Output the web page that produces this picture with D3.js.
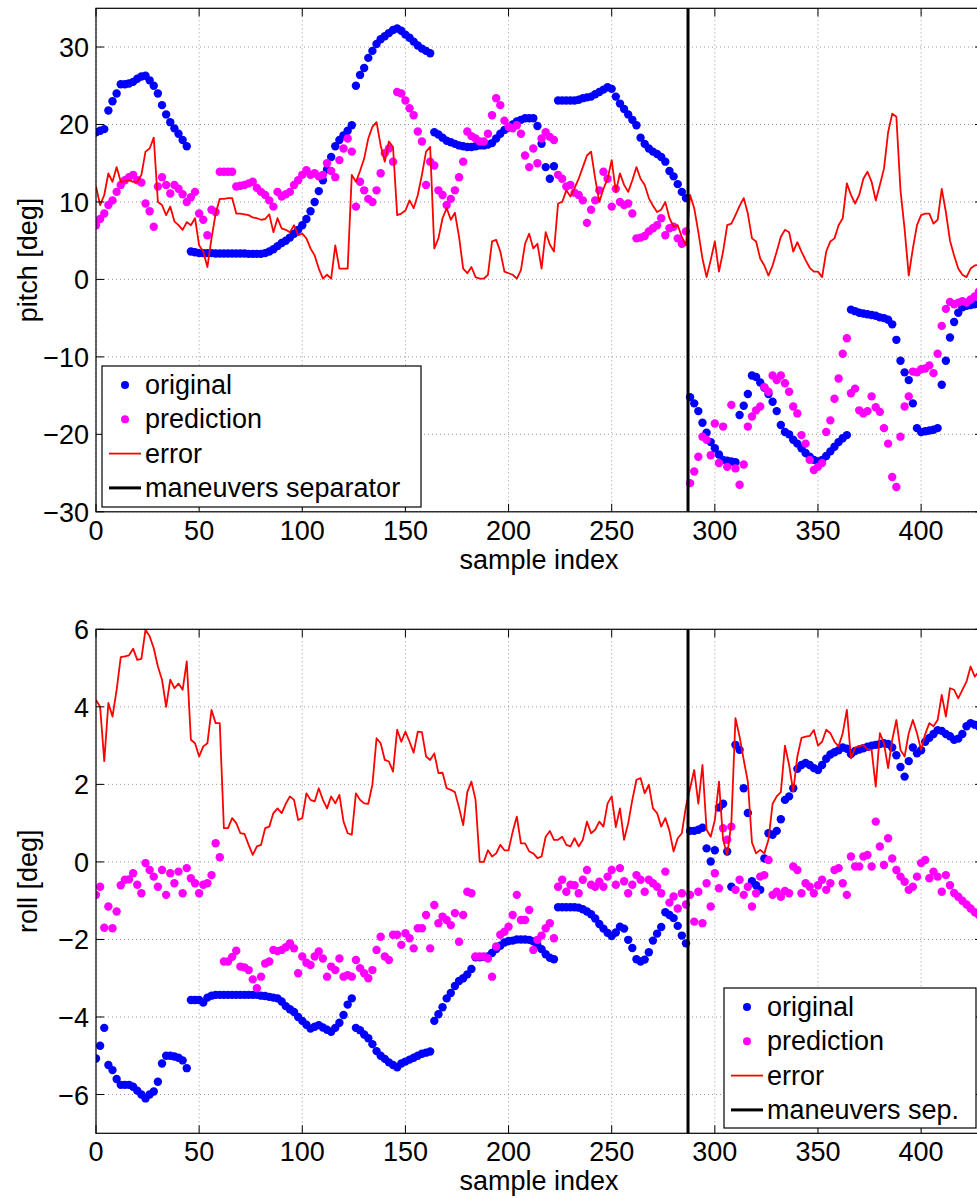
<!DOCTYPE html>
<html>
<head>
<meta charset="utf-8">
<script src="https://cdn.jsdelivr.net/npm/d3@7"></script>
<style>
  body { margin: 0; background: #fff; }
  svg text { font-family: "Liberation Sans", Arial, Helvetica, sans-serif; fill: #000; }
</style>
</head>
<body>
<div id="chart"></div>
<script>
// one value every 2 samples, starting at sample 0
var sampleStep = 2;

var pitchOrig = [
  19.0, 19.2, 19.4, 21.8, 23.0, 24.0, 25.2, 25.2, 25.3, 25.5,
  25.9, 26.2, 26.3, 25.7, 25.0, 24.0, 22.5, 21.3, 20.3, 19.5,
  18.8, 18.0, 17.2, 3.6, 3.5, 3.4, 3.4, 3.4, 3.4, 3.35,
  3.35, 3.35, 3.35, 3.35, 3.35, 3.35, 3.35, 3.3, 3.3, 3.3,
  3.3, 3.4, 3.6, 3.9, 4.3, 4.7, 5.0, 5.4, 5.9, 6.4,
  7.0, 7.8, 8.8, 10.0, 11.4, 12.8, 14.2, 15.8, 17.2, 18.0,
  18.6, 19.2, 19.9, 25.0, 26.4, 27.3, 28.6, 29.5, 30.4, 31.0,
  31.4, 31.8, 32.2, 32.4, 32.1, 31.6, 31.2, 30.7, 30.2, 29.8,
  29.5, 29.2, 19.0, 18.7, 18.3, 17.9, 17.7, 17.5, 17.3, 17.2,
  17.1, 17.1, 17.2, 17.3, 17.3, 17.4, 17.6, 18.2, 18.8, 19.3,
  19.6, 20.0, 20.4, 20.6, 20.8, 20.8, 20.8, 19.8, 17.5, 14.5,
  13.0, 14.6, 23.1, 23.1, 23.1, 23.1, 23.1, 23.2, 23.4, 23.5,
  23.6, 23.9, 24.2, 24.5, 24.8, 24.6, 23.6, 22.7, 22.0, 21.3,
  20.6, 19.9, 18.3, 17.5, 16.9, 16.5, 16.2, 15.8, 15.2, 14.0,
  13.3, 12.3, 11.3, 10.5, -15.2, -16.0, -17.0, -18.5, -19.8, -21.0,
  -21.8, -22.6, -23.3, -23.4, -23.5, -23.6, -17.5, -16.3, -14.8, -12.4,
  -12.6, -13.3, -14.0, -14.8, -15.8, -17.0, -18.8, -19.7, -20.0, -20.7,
  -21.2, -21.8, -22.4, -22.9, -23.3, -23.5, -23.3, -22.8, -22.2, -21.6,
  -21.0, -20.5, -20.1, -3.9, -4.1, -4.3, -4.4, -4.5, -4.6, -4.7,
  -4.9, -5.0, -5.2, -5.8, -7.8, -10.5, -12.0, -13.0, -16.0, -19.2,
  -19.7, -19.6, -19.5, -19.4, -19.2, -13.6, -10.5, -7.5, -5.5, -4.3,
  -3.6, -3.4, -3.3, -3.2, -3.2, -3.1
];

var pitchPred = [
  7.0, 7.8, 8.5, 9.6, 10.2, 11.3, 12.2, 12.8, 13.2, 13.5,
  12.8, 12.5, 9.8, 8.8, 6.8, 12.0, 13.2, 12.2, 11.1, 12.2,
  11.7, 11.0, 10.0, 10.6, 11.3, 8.5, 7.7, 5.7, 9.0, 8.7,
  13.9, 13.9, 13.9, 13.9, 12.0, 12.1, 12.2, 12.4, 12.6, 11.8,
  11.3, 10.9, 10.2, 9.4, 11.3, 10.7, 11.0, 11.3, 12.2, 12.8,
  13.5, 14.1, 13.5, 13.7, 13.3, 13.5, 15.0, 14.0, 13.2, 15.4,
  16.9, 18.2, 16.5, 9.4, 12.6, 11.5, 10.4, 10.0, 11.5, 13.7,
  16.3, 16.9, 15.2, 24.2, 24.0, 23.1, 22.1, 21.2, 19.1, 17.8,
  12.2, 15.2, 14.7, 11.5, 10.9, 9.6, 10.4, 11.5, 13.2, 15.2,
  19.1, 18.5, 18.2, 17.8, 17.8, 18.8, 21.2, 23.4, 22.5, 20.5,
  19.7, 19.5, 19.9, 18.8, 16.0, 14.5, 16.9, 15.0, 18.2, 19.0,
  18.4, 18.0, 13.5, 13.0, 12.0, 12.2, 11.2, 10.9, 10.2, 7.3,
  9.0, 10.2, 11.5, 13.9, 13.0, 9.4, 11.7, 10.0, 9.6, 9.8,
  8.5, 5.3, 5.4, 5.6, 6.2, 6.6, 7.0, 7.9, 5.7, 6.6,
  6.8, 5.3, 4.6, 6.2, -26.3, -24.8, -22.9, -20.3, -20.7, -22.7,
  -18.6, -23.7, -19.0, -24.2, -16.2, -24.4, -26.5, -23.9, -19.0, -17.7,
  -16.9, -16.4, -13.9, -14.5, -12.4, -13.0, -12.4, -13.4, -14.5, -16.4,
  -17.3, -20.1, -21.2, -23.3, -24.6, -24.2, -23.7, -19.7, -18.2, -15.4,
  -12.8, -9.6, -7.6, -14.7, -14.1, -16.9, -17.3, -17.0, -15.1, -16.5,
  -17.1, -19.2, -21.2, -25.5, -26.8, -20.3, -16.4, -15.1, -11.9, -12.0,
  -11.6, -11.5, -11.1, -12.1, -9.6, -6.0, -3.8, -2.9, -3.2, -3.0,
  -2.8, -3.0, -2.6, -2.2, -1.6, -1.4
];

var pitchErr = [
  12.0, 9.6, 10.9, 13.7, 12.6, 14.5, 12.6, 12.7, 12.8, 12.6,
  12.6, 13.5, 16.5, 16.9, 18.3, 10.0, 9.6, 8.3, 9.4, 7.5,
  7.0, 6.4, 7.4, 7.0, 7.9, 4.4, 3.6, 1.6, 5.3, 8.5,
  10.4, 10.4, 10.5, 10.5, 8.5, 8.5, 8.4, 8.3, 8.0, 7.9,
  7.7, 7.8, 8.4, 6.1, 7.9, 6.6, 6.4, 6.1, 7.0, 5.7,
  5.9, 5.3, 4.0, 3.1, 1.4, 0.1, 0.6, 0.1, 4.4, 1.4,
  1.4, 1.4, 13.5, 12.6, 14.0, 15.6, 18.2, 19.7, 20.3, 17.3,
  15.2, 17.8, 17.1, 8.3, 8.5, 8.9, 10.2, 9.2, 10.9, 13.5,
  16.5, 17.1, 4.0, 5.3, 7.9, 9.2, 7.7, 8.6, 5.5, 1.4,
  0.8, 1.6, 0.3, 0.1, 0.1, 0.6, 4.9, 5.1, 3.6, 1.0,
  0.8, 0.6, 0.1, 1.2, 4.6, 5.9, 4.0, 4.6, 1.4, 6.1,
  4.5, 3.6, 9.8, 10.0, 11.5, 10.7, 11.8, 13.0, 14.5, 16.0,
  16.5, 13.0, 10.0, 11.7, 13.0, 15.4, 11.3, 13.7, 12.2, 11.3,
  12.8, 14.5, 13.0, 12.2, 10.5, 9.5, 8.7, 9.0, 10.0, 7.9,
  6.8, 7.0, 5.5, 4.4, 10.9, 9.2, 6.1, 2.7, 0.3, 2.5,
  4.9, 1.0, 3.6, 7.0, 7.2, 8.3, 9.5, 10.5, 8.5, 5.3,
  4.9, 2.7, 1.8, 0.5, 1.8, 3.6, 5.5, 6.4, 6.1, 3.6,
  4.8, 3.6, 2.5, 1.5, 1.0, 1.0, 0.3, 3.6, 4.9, 5.3,
  7.0, 7.9, 12.4, 10.9, 9.8, 10.9, 13.0, 13.9, 12.6, 10.2,
  12.2, 14.3, 19.0, 21.4, 21.0, 11.5, 6.5, 0.5, 4.0, 7.0,
  8.3, 8.5, 8.5, 7.2, 7.7, 11.7, 8.7, 5.0, 3.1, 1.4,
  0.6, 0.3, 1.4, 1.8, 1.9, 2.0
];

var rollOrig = [
  -5.07, -4.74, -4.28, -5.24, -5.37, -5.6, -5.75, -5.75, -5.75, -5.8,
  -5.9, -6.0, -6.1, -6.0, -5.92, -5.67, -5.2, -5.0, -5.0, -5.02,
  -5.05, -5.12, -5.32, -3.56, -3.56, -3.56, -3.63, -3.5, -3.45, -3.43,
  -3.43, -3.43, -3.43, -3.43, -3.43, -3.43, -3.43, -3.43, -3.43, -3.43,
  -3.45, -3.46, -3.48, -3.5, -3.52, -3.6, -3.72, -3.8, -3.87, -4.0,
  -4.1, -4.2, -4.3, -4.25, -4.21, -4.27, -4.33, -4.38, -4.28, -4.15,
  -3.95, -3.68, -3.52, -4.28, -4.34, -4.45, -4.55, -4.7, -4.88, -5.0,
  -5.08, -5.17, -5.24, -5.3, -5.2, -5.15, -5.1, -5.05, -5.0, -4.95,
  -4.92, -4.89, -4.1, -3.93, -3.75, -3.52, -3.38, -3.2, -3.07, -3.0,
  -2.9, -2.76, -2.46, -2.46, -2.45, -2.44, -2.35, -2.25, -2.16, -2.08,
  -2.04, -2.03, -2.0, -2.0, -2.0, -2.01, -2.05, -2.15, -2.25, -2.38,
  -2.47, -2.51, -1.17, -1.17, -1.17, -1.17, -1.17, -1.18, -1.22, -1.28,
  -1.35, -1.46, -1.6, -1.72, -1.83, -1.91, -1.82, -1.67, -1.72, -2.01,
  -2.22, -2.51, -2.57, -2.52, -2.33, -2.03, -1.85, -1.68, -1.3, -1.37,
  -1.45, -1.65, -1.9, -2.1, 0.8, 0.8, 0.83, 0.88, 0.35, 0.01,
  0.3, 1.4, 1.5, 0.27, -0.64, 3.02, 2.89, 1.9, 1.26, -0.5,
  -0.6, -0.72, 0.09, 0.74, 0.7, 0.8, 1.1, 1.6, 1.69, 1.9,
  2.4, 2.5, 2.55, 2.5, 2.42, 2.37, 2.5, 2.66, 2.77, 2.83,
  2.88, 2.95, 2.92, 2.78, 2.86, 2.9, 2.93, 2.97, 3.0, 3.02,
  3.04, 3.06, 3.04, 2.95, 2.75, 2.45, 2.2, 2.6, 2.95, 2.8,
  2.88, 3.1, 3.2, 3.3, 3.4, 3.38, 3.3, 3.24, 3.15, 3.18,
  3.3, 3.5, 3.58, 3.54, 3.49, 3.45
];

var rollPred = [
  -0.85, -0.64, -1.7, -1.15, -1.71, -1.28, -0.6, -0.46, -0.45, -0.29,
  -0.59, -0.81, -0.03, -0.21, -0.38, -0.64, -0.21, -0.85, -0.29, -0.55,
  -0.25, -0.81, -0.16, -0.42, -0.55, -0.81, -0.59, -0.55, -0.34, 0.48,
  0.12, -2.57, -2.57, -2.45, -2.29, -2.7, -2.72, -2.79, -3.03, -3.26,
  -2.96, -2.62, -2.57, -2.27, -2.3, -2.27, -2.2, -2.1, -2.23, -2.87,
  -2.44, -2.6, -2.66, -2.44, -2.31, -2.49, -2.96, -2.7, -2.79, -2.49,
  -2.96, -2.92, -2.96, -2.53, -2.74, -2.87, -3.0, -2.79, -2.27, -1.93,
  -2.44, -2.53, -1.88, -1.88, -2.14, -1.84, -1.97, -2.23, -1.71, -1.71,
  -1.37, -2.23, -1.11, -1.58, -1.41, -1.5, -1.63, -1.32, -2.06, -1.37,
  -0.77, -0.81, -2.44, -2.44, -2.44, -2.49, -2.96, -2.18, -1.88, -1.8,
  -1.67, -1.37, -0.85, -1.5, -1.5, -1.24, -2.27, -2.01, -1.9, -1.71,
  -1.58, -1.97, -0.64, -0.46, -0.77, -0.59, -0.6, -0.81, -0.46, -0.21,
  -0.59, -0.64, -0.51, -0.64, -0.38, -0.21, -0.59, -0.16, -0.5, -0.81,
  -0.59, -0.34, -0.46, -0.77, -0.46, -0.55, -0.64, -0.81, -0.25, -1.05,
  -0.89, -1.2, -0.81, -1.1, -0.85, -1.54, -0.77, -1.58, -0.55, -1.15,
  -0.29, -0.68, 0.87, 0.57, 0.91, -0.72, -0.46, -0.85, -0.64, -1.15,
  -0.81, -0.38, -0.34, 0.05, -0.85, -0.77, -0.9, -0.75, -0.81, -0.12,
  -0.21, -0.81, -0.55, -0.64, -0.81, -0.6, -0.46, -0.72, -0.55, -0.21,
  -0.16, -0.55, -0.85, 0.14, -0.12, -0.12, 0.14, 0.18, -0.12, 1.04,
  0.4, -0.08, 0.61, 0.09, -0.21, -0.38, -0.51, -0.72, -0.64, -0.38,
  -0.03, 0.05, -0.42, -0.25, -0.38, -0.77, -0.34, -0.6, -0.8, -0.9,
  -1.0, -1.1, -1.2, -1.3, -1.37, -1.45
];

var rollErr = [
  4.18, 4.0, 2.6, 4.1, 3.75, 4.44, 5.28, 5.3, 5.33, 5.5,
  5.21, 5.24, 5.99, 5.82, 5.51, 5.04, 4.7, 4.0, 4.7, 4.48,
  4.6, 4.44, 5.17, 3.15, 3.06, 2.72, 2.98, 3.06, 3.92, 3.58,
  3.58, 0.87, 0.87, 1.13, 1.0, 0.74, 0.72, 0.44, 0.18, 0.4,
  0.44, 0.87, 0.91, 1.26, 1.38, 1.26, 1.5, 1.69, 1.6, 1.08,
  1.13, 1.77, 1.6, 1.56, 1.9, 1.6, 1.38, 1.69, 1.51, 1.73,
  1.04, 0.74, 0.7, 1.77, 1.6, 1.51, 1.5, 2.0, 3.19, 3.06,
  2.63, 2.59, 2.33, 3.41, 3.1, 3.36, 3.1, 2.82, 3.36, 3.35,
  2.72, 2.63, 2.8, 2.29, 2.3, 1.9, 1.86, 1.8, 1.4, 0.95,
  1.8, 2.07, 1.6, 0.0, 0.0, 0.3, 0.14, 0.22, 0.44, 0.3,
  0.3, 0.78, 1.17, 0.48, 0.48, 0.27, 0.22, 0.1, 0.14, 0.65,
  0.8, 0.57, 0.57, 0.65, 0.44, 0.4, 0.61, 0.4, 0.57, 1.04,
  0.74, 0.83, 1.04, 0.91, 1.51, 1.69, 0.9, 1.38, 0.57, 1.0,
  1.6, 2.12, 2.16, 1.77, 1.99, 1.38, 1.26, 0.91, 1.13, 0.8,
  0.27, 0.61, 0.74, 1.43, 1.9, 2.37, 1.5, 2.5, 0.83, 0.65,
  1.08, 2.07, 0.57, 0.18, 1.0, 3.71, 3.23, 2.63, 2.07, 0.5,
  0.22, 0.31, 0.22, 0.57, 1.5, 1.69, 1.8, 3.0, 2.5, 1.82,
  2.72, 3.2, 3.23, 3.25, 3.4, 3.0, 3.1, 3.41, 3.32, 3.1,
  2.98, 3.32, 3.92, 2.67, 2.95, 2.98, 3.02, 2.9, 2.89, 1.94,
  3.32, 3.06, 2.42, 3.15, 3.66, 2.89, 2.72, 3.32, 3.66, 3.32,
  2.89, 3.3, 3.58, 3.5, 3.66, 4.31, 3.75, 4.48, 4.44, 4.22,
  4.44, 4.65, 5.04, 4.78, 4.91, 4.95
];

var xTicks = [0, 50, 100, 150, 200, 250, 300, 350, 400];
var pitchTicks = [-30, -20, -10, 0, 10, 20, 30];
var rollTicks = [-6, -4, -2, 0, 2, 4, 6];
var separatorAt = 287;
var legendTop = ["original", "prediction", "error", "maneuvers separator"];
var legendBottom = ["original", "prediction", "error", "maneuvers sep."];

var W = 977, H = 1198;
var svg = d3.select("#chart").append("svg")
    .attr("width", W)
    .attr("height", H);

function drawPanel(cfg) {
    var x = d3.scaleLinear().domain([0, 430]).range([96, 983]);
    var y = d3.scaleLinear().domain(cfg.yDomain).range([cfg.bottom, cfg.top]);
    var g = svg.append("g");

    g.append("clipPath").attr("id", cfg.id)
        .append("rect")
        .attr("x", 96).attr("y", cfg.top)
        .attr("width", 887).attr("height", cfg.bottom - cfg.top);

    // dotted grid
    g.append("g").selectAll("line.gx").data(xTicks).enter().append("line")
        .attr("x1", function(d) { return x(d); }).attr("x2", function(d) { return x(d); })
        .attr("y1", cfg.top).attr("y2", cfg.bottom)
        .attr("stroke", "#999").attr("stroke-width", 1).attr("stroke-dasharray", "1,3");
    g.append("g").selectAll("line.gy").data(cfg.yTicks).enter().append("line")
        .attr("x1", 96).attr("x2", 983)
        .attr("y1", function(d) { return y(d); }).attr("y2", function(d) { return y(d); })
        .attr("stroke", "#999").attr("stroke-width", 1).attr("stroke-dasharray", "1,3");

    var plot = g.append("g").attr("clip-path", "url(#" + cfg.id + ")");

    function pts(arr) {
        return arr.map(function(v, i) { return { s: i * sampleStep, v: v }; });
    }

    plot.append("g").selectAll("circle").data(pts(cfg.orig)).enter().append("circle")
        .attr("cx", function(d) { return x(d.s); })
        .attr("cy", function(d) { return y(d.v); })
        .attr("r", 4.2)
        .attr("fill", "#0000ff");

    plot.append("g").selectAll("circle").data(pts(cfg.pred)).enter().append("circle")
        .attr("cx", function(d) { return x(d.s); })
        .attr("cy", function(d) { return y(d.v); })
        .attr("r", 4.2)
        .attr("fill", "#ff00ff");

    var line = d3.line()
        .x(function(d) { return x(d.s); })
        .y(function(d) { return y(d.v); });
    plot.append("path").datum(pts(cfg.err))
        .attr("d", line)
        .attr("fill", "none")
        .attr("stroke", "#ff0000")
        .attr("stroke-width", 1.8)
        .attr("stroke-linejoin", "round");

    plot.append("line")
        .attr("x1", x(separatorAt)).attr("x2", x(separatorAt))
        .attr("y1", cfg.top).attr("y2", cfg.bottom)
        .attr("stroke", "#000").attr("stroke-width", 3);

    // box + inward ticks
    g.append("rect")
        .attr("x", 96).attr("y", cfg.top)
        .attr("width", 887).attr("height", cfg.bottom - cfg.top)
        .attr("fill", "none").attr("stroke", "#000").attr("stroke-width", 1.2);
    xTicks.forEach(function(t) {
        g.append("line").attr("x1", x(t)).attr("x2", x(t))
            .attr("y1", cfg.bottom).attr("y2", cfg.bottom - 8)
            .attr("stroke", "#000").attr("stroke-width", 1);
        g.append("line").attr("x1", x(t)).attr("x2", x(t))
            .attr("y1", cfg.top).attr("y2", cfg.top + 8)
            .attr("stroke", "#000").attr("stroke-width", 1);
        g.append("text").attr("x", x(t)).attr("y", cfg.bottom + 28)
            .attr("text-anchor", "middle").attr("font-size", 27).text(t);
    });
    cfg.yTicks.forEach(function(t) {
        g.append("line").attr("x1", 96).attr("x2", 104)
            .attr("y1", y(t)).attr("y2", y(t))
            .attr("stroke", "#000").attr("stroke-width", 1);
        g.append("line").attr("x1", 983).attr("x2", 975)
            .attr("y1", y(t)).attr("y2", y(t))
            .attr("stroke", "#000").attr("stroke-width", 1);
        g.append("text").attr("x", 89).attr("y", y(t) + 10)
            .attr("text-anchor", "end").attr("font-size", 27)
            .text(t < 0 ? "\u2212" + Math.abs(t) : t);
    });

    g.append("text")
        .attr("x", 539).attr("y", cfg.bottom + 57)
        .attr("text-anchor", "middle").attr("font-size", 27)
        .text("sample index");
    g.append("text")
        .attr("transform", "translate(37," + ((cfg.top + cfg.bottom) / 2) + ") rotate(-90)")
        .attr("text-anchor", "middle").attr("font-size", 27)
        .text(cfg.yLabel);

    // legend
    var L = cfg.legend;
    var lg = g.append("g");
    lg.append("rect")
        .attr("x", L.x).attr("y", L.y).attr("width", L.w).attr("height", L.h)
        .attr("fill", "#fff").attr("stroke", "#000").attr("stroke-width", 1.2);
    L.labels.forEach(function(label, i) {
        var cy = L.y + 19 + i * 34.3;
        if (i === 0 || i === 1) {
            lg.append("circle").attr("cx", L.x + 23).attr("cy", cy).attr("r", 4)
                .attr("fill", i === 0 ? "#0000ff" : "#ff00ff");
        } else {
            lg.append("line").attr("x1", L.x + 7).attr("x2", L.x + 39)
                .attr("y1", cy).attr("y2", cy)
                .attr("stroke", i === 2 ? "#ff0000" : "#000")
                .attr("stroke-width", i === 2 ? 1.8 : 3);
        }
        lg.append("text").attr("x", L.x + 43).attr("y", cy + 9)
            .attr("font-size", 27).text(label);
    });
}

drawPanel({
    id: "clipTop", top: 8.3, bottom: 511.8, yDomain: [-30, 35],
    yTicks: pitchTicks, yLabel: "pitch [deg]",
    orig: pitchOrig, pred: pitchPred, err: pitchErr,
    legend: { x: 102, y: 366, w: 319, h: 141, labels: legendTop }
});

drawPanel({
    id: "clipBottom", top: 629.3, bottom: 1133.3, yDomain: [-7, 6],
    yTicks: rollTicks, yLabel: "roll [deg]",
    orig: rollOrig, pred: rollPred, err: rollErr,
    legend: { x: 724, y: 988, w: 252, h: 140, labels: legendBottom }
});
</script>
</body>
</html>
